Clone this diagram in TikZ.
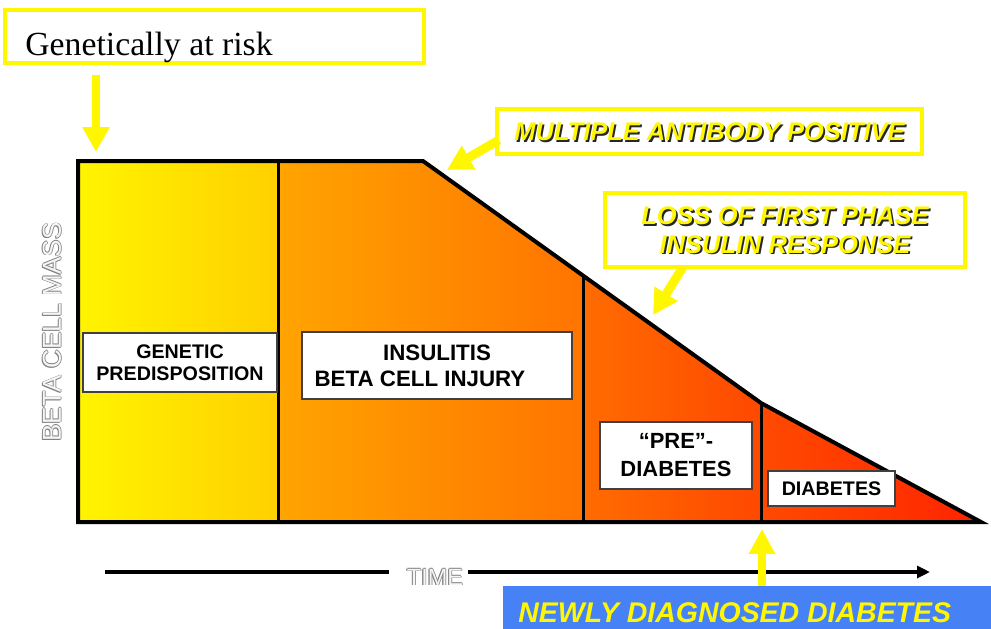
\documentclass[tikz,border=0pt]{standalone}
\usepackage{fontspec}
\setmainfont{Liberation Serif}
\setsansfont{Liberation Sans}
\usetikzlibrary{arrows.meta}
\newlength\pxu
\setlength\pxu{0.02cm}
\definecolor{cyel}{HTML}{FFF700}
\definecolor{cblue}{HTML}{4682F6}
\definecolor{segAl}{HTML}{FFF400}
\definecolor{segAr}{HTML}{FFD000}
\definecolor{segBl}{HTML}{FFA400}
\definecolor{segBr}{HTML}{FF7400}
\definecolor{segCl}{HTML}{FF6C00}
\definecolor{segCr}{HTML}{FF4800}
\definecolor{segDl}{HTML}{FF4A00}
\definecolor{segDr}{HTML}{FF2400}
\begin{document}
\begin{tikzpicture}[x=0.02cm,y=-0.02cm,
  yellowbox/.style={draw=cyel, line width=4\pxu, fill=white, inner sep=0pt},
  labelbox/.style={draw=black!75, line width=1.3\pxu, fill=white, inner sep=0pt, font=\sffamily\bfseries, align=center},
  yarrow/.style={draw=cyel, line width=5.1pt, -{Triangle[length=14.2pt,width=14.7pt]}},
  ytext/.style={font=\sffamily\bfseries\itshape\fontsize{14.5}{16.2}\selectfont, align=center, inner sep=0pt},
  embdark/.style={text=black!50, inner sep=0pt},
  emblight/.style={text=black!4, inner sep=0pt},
  bcmfont/.style={font=\sffamily\fontsize{14.8}{16}\selectfont, rotate=90},
  timefont/.style={font=\sffamily\fontsize{13.4}{15}\selectfont},
  timeline/.style={draw=black, line width=4\pxu},
]
\useasboundingbox (0,0) rectangle (991,629);
\fill[white] (0,0) rectangle (991,629);

% key points of the beta cell mass curve
\coordinate (tl) at (78,161);
\coordinate (knee) at (423,161);
\coordinate (d2t) at (583,275.6);
\coordinate (d3t) at (761,403);
\coordinate (tip) at (981,522);
\coordinate (bl) at (78,522);
\coordinate (d1t) at (278,161);
\coordinate (d1b) at (278,522);
\coordinate (d2b) at (583,522);
\coordinate (d3b) at (761,522);

% shaded segments
\path[left color=segAl, right color=segAr] (tl) -- (d1t) -- (d1b) -- (bl) -- cycle;
\path[left color=segBl, right color=segBr] (d1t) -- (knee) -- (d2t) -- (d2b) -- (d1b) -- cycle;
\path[left color=segCl, right color=segCr] (d2t) -- (d3t) -- (d3b) -- (d2b) -- cycle;
\path[left color=segDl, right color=segDr] (d3t) -- (tip) -- (d3b) -- cycle;

% dividers and outline
\draw[line width=3\pxu] (d1t) -- (d1b);
\draw[line width=3\pxu] (d2t) -- (d2b);
\draw[line width=3\pxu] (d3t) -- (d3b);
\draw[line width=4\pxu, line join=miter] (tl) -- (knee) -- (d3t) -- (tip) -- (bl) -- cycle;

% stage labels
\node[labelbox, minimum width=194\pxu, minimum height=59\pxu, font=\sffamily\bfseries\fontsize{11.2}{12.5}\selectfont] (gen) at (180,362.5) {GENETIC\\PREDISPOSITION};
\node[labelbox, minimum width=270\pxu, minimum height=67\pxu, font=\sffamily\bfseries\fontsize{12.7}{14.7}\selectfont] (ins) at (437,365.5) {INSULITIS\\BETA CELL INJURY\hspace*{34\pxu}};
\node[labelbox, minimum width=152\pxu, minimum height=67\pxu, font=\sffamily\bfseries\fontsize{12.5}{15.9}\selectfont] (pre) at (676,455.5) {“PRE”-\\DIABETES};
\node[labelbox, minimum width=127\pxu, minimum height=35\pxu, font=\sffamily\bfseries\fontsize{11.2}{12.5}\selectfont] (dia) at (831.5,488.5) {DIABETES};

% axis labels (embossed: grey outline, light face)
\foreach \dx/\dy [count=\k] in {-1.1/0.8,0.7/0,-0.7/0,0/0.7,0/-0.7}{
  \node[embdark, bcmfont] (bcmd\k) at (52+\dx,332+\dy) {BETA CELL MASS};
  \node[embdark, timefont] (timed\k) at (435+\dx,577+\dy) {TIME};
}
\node[emblight, bcmfont] (bcm) at (52,332) {BETA CELL MASS};
\node[emblight, timefont] (time) at (435,577) {TIME};
\coordinate (t1) at (105,572);
\coordinate (t2) at (389,572);
\coordinate (t3) at (468,572);
\coordinate (t4) at (930,572);
\draw[timeline] (t1) -- (t2);
\draw[timeline, -{Triangle[length=7.4pt,width=6.8pt]}] (t3) -- (t4);

% callout: genetically at risk
\node[yellowbox, line width=4.5\pxu, minimum width=419\pxu, minimum height=53\pxu] (risk) at (214.5,36.5) {};
\node[anchor=base west, inner sep=0pt, font=\fontsize{19.2}{22}\selectfont] (risktext) at (25,55) {Genetically at risk};
\coordinate (ga1) at (96,75);
\coordinate (ga2) at (96,152);
\draw[yarrow] (ga1) -- (ga2);

% callout: multiple antibody positive
\node[yellowbox, line width=3.5\pxu, minimum width=425\pxu, minimum height=45\pxu] (mab) at (709.5,131.5) {};
\node[ytext, text=black!85] (mabs) at ([shift={(1.8,1.8)}]mab.center) {MULTIPLE ANTIBODY POSITIVE};
\node[ytext, text=cyel] (mabt) at (mab.center) {MULTIPLE ANTIBODY POSITIVE};
\coordinate (ma1) at (499,140);
\coordinate (ma2) at (447,170);
\draw[yarrow] (ma1) -- (ma2);

% callout: loss of first phase insulin response
\node[yellowbox, line width=3.5\pxu, minimum width=360\pxu, minimum height=74\pxu] (loss) at (785,230) {};
\node[ytext, text=black!85] (losss) at ([shift={(1.8,1.8)}]loss.center) {LOSS OF FIRST PHASE\\INSULIN RESPONSE};
\node[ytext, text=cyel] (losst) at (loss.center) {LOSS OF FIRST PHASE\\INSULIN RESPONSE};
\coordinate (la1) at (683,267);
\coordinate (la2) at (653,315);
\draw[yarrow] (la1) -- (la2);

% newly diagnosed diabetes
\node[fill=cblue, inner sep=0pt, anchor=north west, minimum width=488\pxu, minimum height=43\pxu] (nd) at (503,586) {};
\node[anchor=base west, inner sep=0pt, text=cyel, font=\sffamily\bfseries\itshape\fontsize{16.2}{18}\selectfont] (ndt) at (518,622) {NEWLY DIAGNOSED DIABETES};
\coordinate (ua1) at (762,586);
\coordinate (ua2) at (762,529);
\draw[yarrow, -{Triangle[length=14.2pt,width=14.2pt]}] (ua1) -- (ua2);
\end{tikzpicture}
\end{document}
